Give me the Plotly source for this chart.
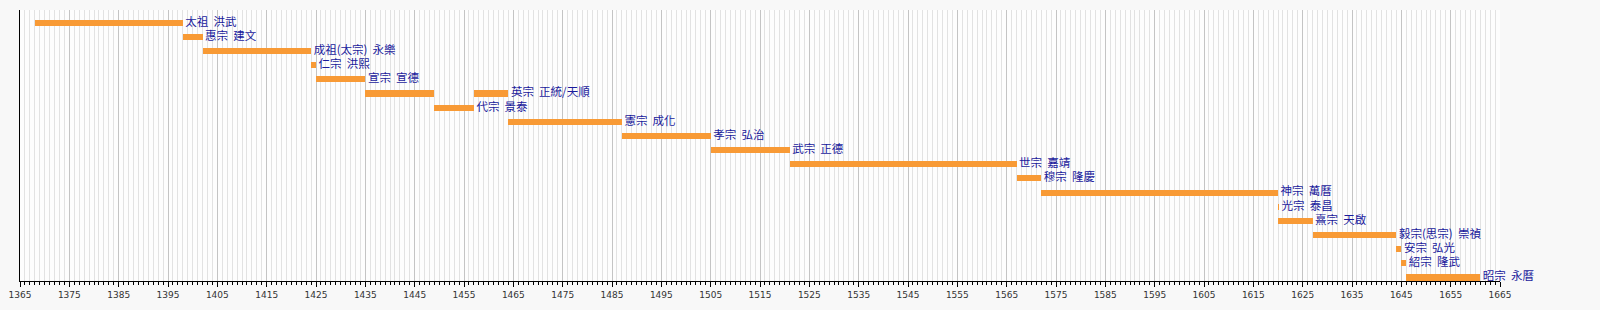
import plotly.graph_objects as go

# Ming emperors: temple name + era name, reign start/end (years)
labels = [
    "太祖\u00a0\u00a0洪武", "惠宗\u00a0\u00a0建文", "成祖(太宗)\u00a0\u00a0永樂", "仁宗\u00a0\u00a0洪熙",
    "宣宗\u00a0\u00a0宣德", "英宗\u00a0\u00a0正統/天順", "代宗\u00a0\u00a0景泰", "憲宗\u00a0\u00a0成化",
    "孝宗\u00a0\u00a0弘治", "武宗\u00a0\u00a0正德", "世宗\u00a0\u00a0嘉靖", "穆宗\u00a0\u00a0隆慶",
    "神宗\u00a0\u00a0萬曆", "光宗\u00a0\u00a0泰昌", "熹宗\u00a0\u00a0天啟", "毅宗(思宗)\u00a0\u00a0崇禎",
    "安宗\u00a0\u00a0弘光", "紹宗\u00a0\u00a0隆武", "昭宗\u00a0\u00a0永曆",
]
rows = list(range(len(labels)))

# reign segments (row index, start, end); 英宗 reigned twice
seg_rows = [0, 1, 2, 3, 4, 5, 6, 5, 7, 8, 9, 10, 11, 12, 13, 14, 15, 16, 17, 18]
seg_start = [1368, 1398, 1402, 1424, 1425, 1435, 1449, 1457, 1464, 1487, 1505, 1521, 1567, 1572,
             1620, 1620, 1627, 1644, 1645, 1646]
seg_end = [1398, 1402, 1424, 1425, 1435, 1449, 1457, 1464, 1487, 1505, 1521, 1567, 1572, 1620,
           1620.2, 1627, 1644, 1645, 1646, 1661]

# label anchor = end of last reign segment of each row
label_x = [1398, 1402, 1424, 1425, 1435, 1464, 1457, 1487, 1505, 1521, 1567, 1572, 1620, 1620.2,
           1627, 1644, 1645, 1646, 1661]

x_min, x_max = 1365, 1665

fig = go.Figure()
fig.add_trace(go.Bar(
    orientation="h",
    y=seg_rows,
    base=seg_start,
    x=[e - s for s, e in zip(seg_start, seg_end)],
    width=0.43,
    marker=dict(color="#f89a35", line=dict(width=0)),
    hoverinfo="skip",
    showlegend=False,
))
fig.add_trace(go.Scatter(
    x=label_x,
    y=rows,
    mode="text",
    text=labels,
    texttemplate="\u00a0%{text}",
    textposition="middle right",
    textfont=dict(family="Noto Sans CJK TC", size=11.5, color="#1a1a9c"),
    cliponaxis=False,
    hoverinfo="skip",
    showlegend=False,
))

fig.update_layout(
    width=1600,
    height=310,
    margin=dict(l=20, r=100, t=10, b=29),
    paper_bgcolor="#f8f8f8",
    plot_bgcolor="#fdfdfd",
    bargap=0,
    xaxis=dict(
        range=[x_min, x_max],
        tick0=1365,
        dtick=10,
        ticks="outside",
        ticklen=5,
        tickcolor="#000000",
        tickwidth=1,
        showline=True,
        linecolor="#000000",
        linewidth=1,
        showgrid=True,
        gridcolor="#c4c4c4",
        gridwidth=1,
        zeroline=False,
        tickfont=dict(family="DejaVu Sans", size=9, color="#333333"),
        minor=dict(dtick=1, ticks="outside", ticklen=3, tickcolor="#000000",
                   showgrid=True, gridcolor="#e2e2e2", gridwidth=1),
        fixedrange=True,
    ),
    yaxis=dict(
        range=[18.25, -0.9],
        showticklabels=False,
        ticks="",
        showgrid=False,
        zeroline=False,
        showline=True,
        linecolor="#000000",
        linewidth=1.3,
        fixedrange=True,
    ),
)

fig.write_html("out.html")
